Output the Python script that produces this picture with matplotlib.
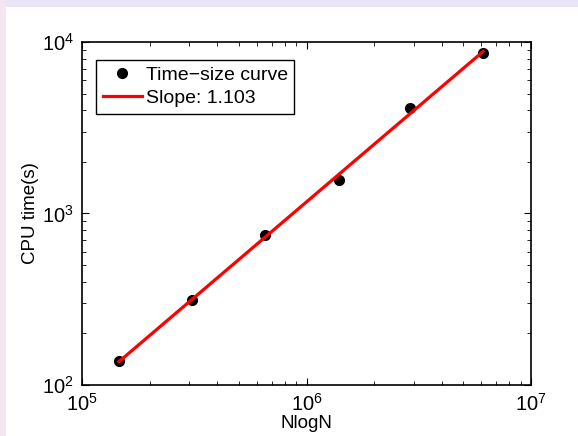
import matplotlib
matplotlib.use("Agg")
import matplotlib.pyplot as plt
import numpy as np
from matplotlib.patches import Rectangle

plt.rcParams["font.family"] = ["Liberation Sans", "DejaVu Sans"]
plt.rcParams["mathtext.fontset"] = "custom"
plt.rcParams["mathtext.rm"] = "Liberation Sans"
plt.rcParams["axes.unicode_minus"] = True

# valores
nlogn = [1.46e5, 3.09e5, 6.53e5, 1.40e6, 2.89e6, 6.11e6]
cpu_time = [138, 312, 750, 1560, 4100, 8650]
slope_label = "Slope: 1.103"

fig = plt.figure(figsize=(5.78, 4.36), dpi=100, facecolor="white")
# faixas lilás do fundo do slide
fig.patches.append(Rectangle((0, 0.985), 1, 0.015, transform=fig.transFigure,
                             fc="#e9e5f7", ec="none", zorder=0))
fig.patches.append(Rectangle((0, 0), 0.01, 1, transform=fig.transFigure,
                             fc="#f1e6f2", ec="none", zorder=0))

ax = fig.add_axes([82 / 578, 1 - 385 / 436, (531 - 82) / 578, (385 - 42) / 436])
ax.set_xscale("log")
ax.set_yscale("log")

lx, ly = np.log10(nlogn), np.log10(cpu_time)
a, b = np.polyfit(lx, ly, 1)
xf = np.array([min(nlogn), max(nlogn)])
yf = 10 ** (a * np.log10(xf) + b)

ax.plot(nlogn, cpu_time, "o", color="black", ms=7, label="Time\u2212size curve", zorder=2)
ax.plot(xf, yf, color="red", lw=2.3, label=slope_label, zorder=3)

ax.set_xlim(1e5, 1e7)
ax.set_ylim(1e2, 1e4)
ax.tick_params(which="both", direction="in", top=True, right=True, labelsize=14.5)
ax.tick_params(which="major", length=5)
ax.tick_params(which="minor", length=3)
ax.tick_params(axis="x", which="major", pad=6)
ax.tick_params(axis="y", which="major", pad=6)
for s in ax.spines.values():
    s.set_linewidth(1.2)

ax.set_xlabel("NlogN", fontsize=13.5, labelpad=0)
ax.set_ylabel("CPU time(s)", fontsize=13.5, labelpad=2)

leg = ax.legend(loc="upper left", bbox_to_anchor=(0.031, 0.948), fontsize=14,
                fancybox=False, framealpha=1, edgecolor="black", borderpad=0.35,
                handlelength=2.0, handletextpad=0.2, labelspacing=0.25, borderaxespad=0)
leg.get_frame().set_linewidth(1.0)

fig.savefig("out.png", dpi=100, facecolor=fig.get_facecolor())
